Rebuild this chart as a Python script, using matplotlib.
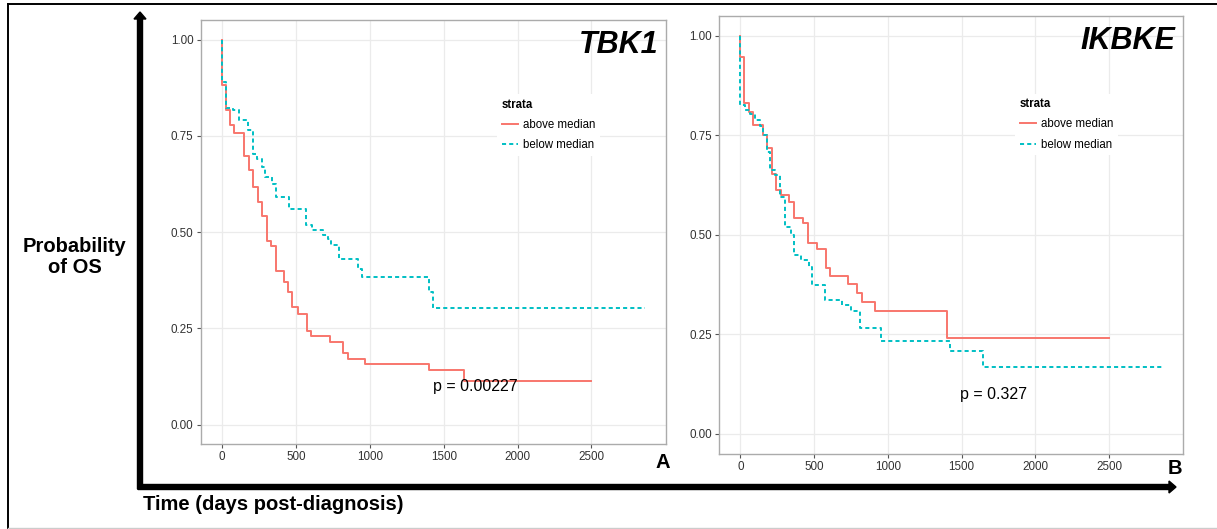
import matplotlib
matplotlib.use("Agg")
import matplotlib.pyplot as plt
from matplotlib.patches import FancyArrow

# ---- data (days, survival prob.) ----
TBK1_ABOVE_T = [0, 0, 27, 54, 80, 147, 182, 212, 243, 272, 304, 331, 365, 421,
                448, 471, 511, 572, 601, 730, 820, 849, 966, 1398, 1636]
TBK1_ABOVE_S = [1.0, 0.881, 0.816, 0.779, 0.756, 0.698, 0.662, 0.616, 0.578,
                0.541, 0.477, 0.464, 0.399, 0.371, 0.343, 0.306, 0.287, 0.243,
                0.230, 0.215, 0.187, 0.171, 0.158, 0.141, 0.113]
TBK1_ABOVE_END = 2500

TBK1_BELOW_T = [0, 0, 27, 77, 111, 178, 212, 235, 269, 291, 335, 366, 454, 571,
                610, 680, 720, 738, 792, 921, 944, 1402, 1429]
TBK1_BELOW_S = [1.0, 0.890, 0.823, 0.816, 0.790, 0.765, 0.704, 0.691, 0.669,
                0.643, 0.626, 0.591, 0.559, 0.518, 0.505, 0.492, 0.481, 0.466,
                0.429, 0.405, 0.384, 0.345, 0.302]
TBK1_BELOW_END = 2862

IKBKE_ABOVE_T = [0, 0, 27, 57, 87, 150, 181, 211, 240, 272, 331, 363, 422, 456,
                 517, 578, 607, 732, 789, 823, 914, 1404]
IKBKE_ABOVE_S = [1.0, 0.946, 0.832, 0.810, 0.776, 0.751, 0.718, 0.653, 0.613,
                 0.600, 0.584, 0.543, 0.529, 0.481, 0.464, 0.416, 0.397, 0.376,
                 0.355, 0.332, 0.309, 0.240]
IKBKE_ABOVE_END = 2500

IKBKE_BELOW_T = [0, 0, 30, 64, 98, 131, 154, 177, 199, 233, 267, 301, 340, 366,
                 414, 466, 485, 574, 690, 750, 811, 955, 1425, 1645]
IKBKE_BELOW_S = [1.0, 0.827, 0.814, 0.803, 0.789, 0.774, 0.751, 0.709, 0.663,
                 0.651, 0.596, 0.521, 0.500, 0.450, 0.437, 0.420, 0.374, 0.337,
                 0.323, 0.309, 0.266, 0.233, 0.209, 0.168]
IKBKE_BELOW_END = 2862

STRATA = ["above median", "below median"]
X_TICKS = [0, 500, 1000, 1500, 2000, 2500]
Y_TICKS = [0.0, 0.25, 0.50, 0.75, 1.00]
Y_TICK_LABELS = ["0.00", "0.25", "0.50", "0.75", "1.00"]

RED = "#F8766D"
CYAN = "#00BFC4"
FONT = ["Liberation Sans", "DejaVu Sans"]

W, H = 1217, 529


def box(left, top, right, bottom):
    """Pixel box -> figure fraction rect."""
    return [left / W, (H - bottom) / H, (right - left) / W, (bottom - top) / H]


def km_panel(ax, above, below, gene, pval, legend_anchor):
    (ta, sa, ea), (tb, sb, eb) = above, below
    l1, = ax.step(ta + [ea], sa + [sa[-1]], where="post", color=RED, lw=1.4)
    l2, = ax.step(tb + [eb], sb + [sb[-1]], where="post", color=CYAN, lw=1.4,
                  linestyle=(0, (2.1, 1.6)))

    ax.set_xlim(-143, 3003)
    ax.set_ylim(-0.05, 1.05)
    ax.set_xticks(X_TICKS)
    ax.set_yticks(Y_TICKS)
    ax.set_yticklabels(Y_TICK_LABELS)
    ax.grid(True, color="#EBEBEB", lw=0.9)
    ax.set_axisbelow(True)
    for s in ax.spines.values():
        s.set_color("#ABABAB")
        s.set_linewidth(1.0)
    ax.tick_params(length=3, width=0.8, color="#555555", labelcolor="#333333",
                   labelsize=8.4, pad=2.4)

    ax.text(0.984, 0.942, gene, transform=ax.transAxes, ha="right", va="center",
            fontsize=22, fontweight="bold", fontstyle="italic", family=FONT)
    ax.text(1715, 0.10, pval, ha="center", va="center", fontsize=11.5,
            family=FONT)

    leg = ax.legend([l1, l2], STRATA, title="strata", loc="upper left",
                    bbox_to_anchor=legend_anchor, frameon=True,
                    facecolor="white", edgecolor="none", framealpha=1,
                    title_fontsize=8.3, handlelength=1.4,
                    handletextpad=0.45, labelspacing=0.72, borderpad=0.4,
                    borderaxespad=0, prop={"family": FONT, "size": 8.3})
    leg.get_title().set_fontweight("bold")
    leg._legend_box.align = "left"
    leg._legend_box.sep = 6


def main():
    plt.rcParams["font.family"] = FONT
    fig = plt.figure(figsize=(W / 100, H / 100), dpi=100)

    # overlay in pixel coordinates for the frame, arrows and loose labels
    ov = fig.add_axes([0, 0, 1, 1], zorder=0)
    ov.set_xlim(0, W)
    ov.set_ylim(H, 0)
    ov.axis("off")
    ov.plot([8, W], [4, 4], color="black", lw=1.4)
    ov.plot([8, 8], [4, 528], color="black", lw=1.4)
    ov.plot([8, W], [528, 528], color="#CCCCCC", lw=1.0)

    ov.add_patch(FancyArrow(140, 489, 0, -477, width=5, head_width=12,
                            head_length=7, length_includes_head=True,
                            color="black"))
    ov.add_patch(FancyArrow(138, 487, 1038, 0, width=5, head_width=12,
                            head_length=7, length_includes_head=True,
                            color="black"))

    ov.text(75, 257, "Probability\nof OS", ha="center", va="center",
            fontsize=14.5, fontweight="bold", linespacing=1.15)
    ov.text(143, 505, "Time (days post-diagnosis)", ha="left", va="center",
            fontsize=14.5, fontweight="bold")
    ov.text(663, 463, "A", ha="center", va="center", fontsize=14.5,
            fontweight="bold")
    ov.text(1175, 468, "B", ha="center", va="center", fontsize=14.5,
            fontweight="bold")

    ax_a = fig.add_axes(box(201, 20.3, 665.7, 443.8), zorder=1)
    km_panel(ax_a,
             (TBK1_ABOVE_T, TBK1_ABOVE_S, TBK1_ABOVE_END),
             (TBK1_BELOW_T, TBK1_BELOW_S, TBK1_BELOW_END),
             "TBK1", "p = 0.00227", (0.638, 0.826))

    ax_b = fig.add_axes(box(719.4, 16, 1183, 453.9), zorder=1)
    km_panel(ax_b,
             (IKBKE_ABOVE_T, IKBKE_ABOVE_S, IKBKE_ABOVE_END),
             (IKBKE_BELOW_T, IKBKE_BELOW_S, IKBKE_BELOW_END),
             "IKBKE", "p = 0.327", (0.638, 0.823))

    fig.savefig("out.png", dpi=100)
    plt.close(fig)


if __name__ == "__main__":
    main()
